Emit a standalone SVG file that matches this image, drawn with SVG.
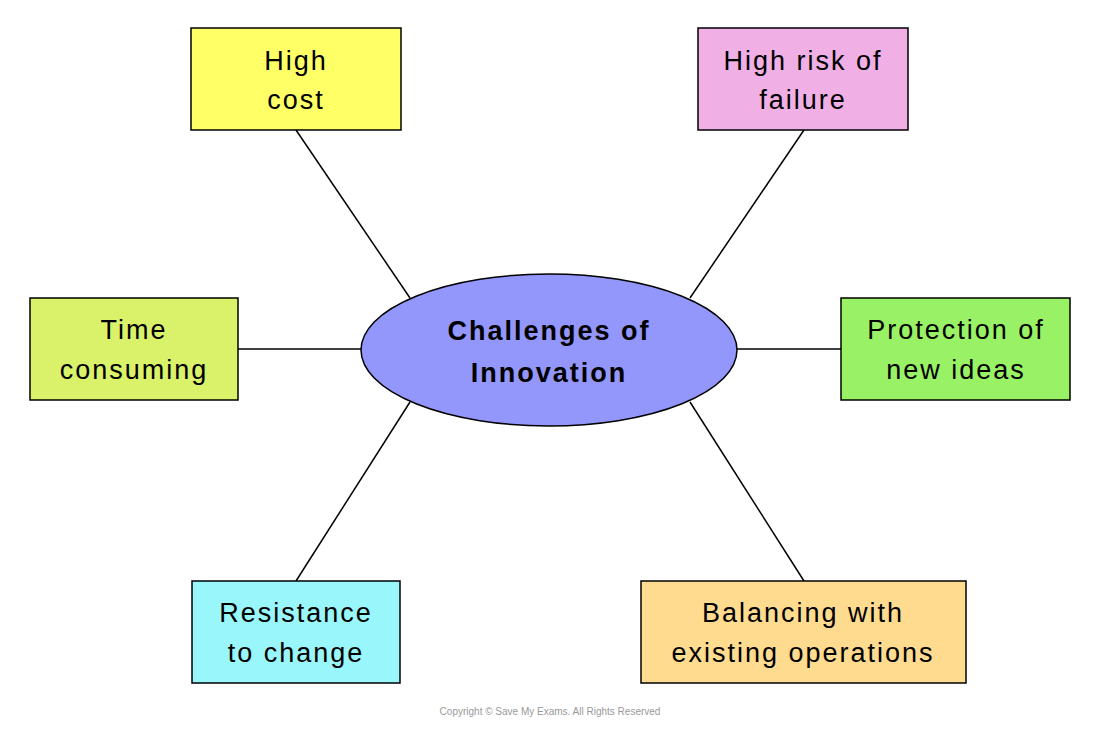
<svg xmlns="http://www.w3.org/2000/svg" width="1100" height="729" viewBox="0 0 1100 729">
<style>
.b{stroke:#000;stroke-width:1.5}
.t{font-family:"Liberation Sans",sans-serif;font-size:27px;letter-spacing:2px;text-anchor:middle;fill:#000}
.c{stroke:#000;stroke-width:1.5;fill:none}
</style>
<rect width="1100" height="729" fill="#fff"/>
<g id="connectors">
<line class="c" x1="296" y1="130" x2="410" y2="298"/>
<line class="c" x1="804" y1="130" x2="690" y2="298"/>
<line class="c" x1="238" y1="349" x2="361" y2="349"/>
<line class="c" x1="737" y1="349" x2="841" y2="349"/>
<line class="c" x1="296" y1="581" x2="410" y2="402"/>
<line class="c" x1="804" y1="581" x2="690" y2="402"/>
</g>
<g id="center"><ellipse class="b" cx="549" cy="350" rx="188" ry="76" fill="#9396fb"/>
<text class="t" x="549" y="340" font-weight="bold" font-size="28">Challenges  of</text>
<text class="t" x="549" y="382" font-weight="bold" font-size="28">Innovation</text></g>
<g id="n1"><rect class="b" x="191" y="28" width="210" height="102" fill="#ffff66"/>
<text class="t" x="296" y="70">High</text><text class="t" x="296" y="109">cost</text></g>
<g id="n2"><rect class="b" x="698" y="28" width="210" height="102" fill="#f0b0e6"/>
<text class="t" x="803" y="70">High risk of</text><text class="t" x="803" y="109">failure</text></g>
<g id="n3"><rect class="b" x="30" y="298" width="208" height="102" fill="#d9f26a"/>
<text class="t" x="134" y="339">Time</text><text class="t" x="134" y="379">consuming</text></g>
<g id="n4"><rect class="b" x="841" y="298" width="229" height="102" fill="#99f266"/>
<text class="t" x="956" y="339">Protection of</text><text class="t" x="956" y="379">new ideas</text></g>
<g id="n5"><rect class="b" x="192" y="581" width="208" height="102" fill="#99f7fc"/>
<text class="t" x="296" y="622">Resistance</text><text class="t" x="296" y="662">to change</text></g>
<g id="n6"><rect class="b" x="641" y="581" width="325" height="102" fill="#ffdb8f"/>
<text class="t" x="803" y="622">Balancing with</text><text class="t" x="803" y="662">existing operations</text></g>
<text x="550" y="715" font-family="Liberation Sans,sans-serif" font-size="10" fill="#999" text-anchor="middle">Copyright © Save My Exams. All Rights Reserved</text>
</svg>
